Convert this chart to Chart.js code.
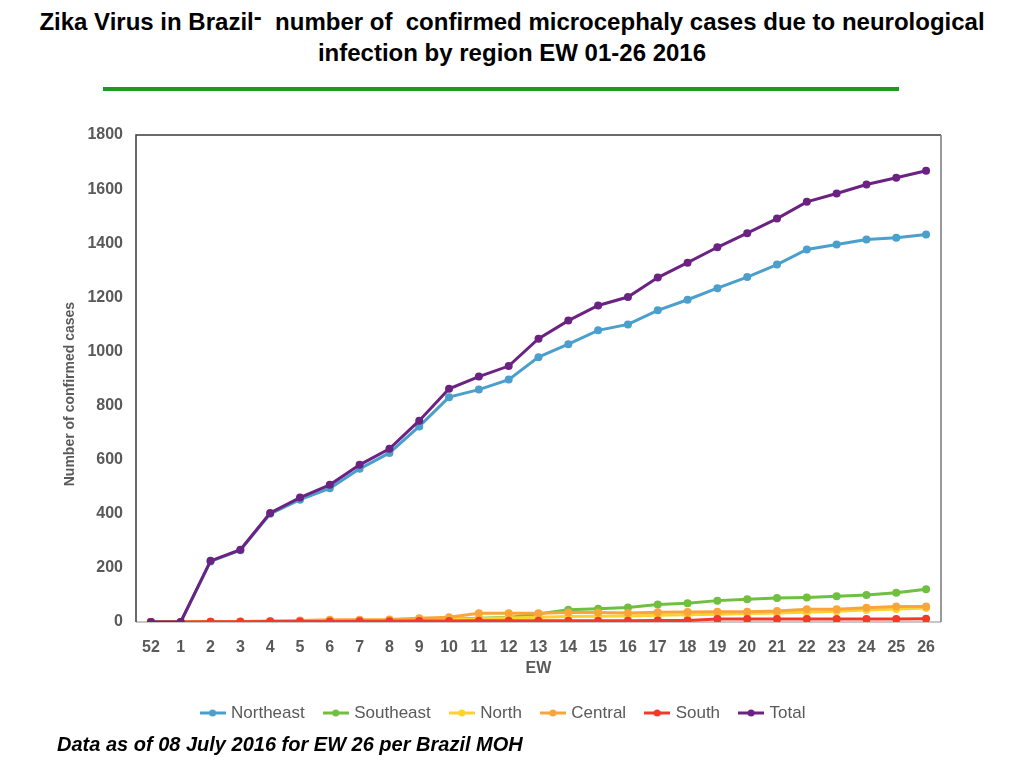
<!DOCTYPE html>
<html>
<head>
<meta charset="utf-8">
<script src="https://cdn.jsdelivr.net/npm/chart.js@4.4.1/dist/chart.umd.min.js"></script>
<style>
  body { margin: 0; background: #fff; }
  #page { position: relative; width: 1024px; height: 768px; overflow: hidden; font-family: "Liberation Sans", Arial, sans-serif; }
  #title { position: absolute; top: 6px; left: 0; width: 1024px; text-align: center; font-weight: bold; font-size: 24px; line-height: 31px; color: #000; }
  #rule { position: absolute; top: 87px; left: 103px; width: 796px; height: 4px; background: #1c9a22; }
  #chartBox { position: absolute; top: 110px; left: 0; width: 1024px; height: 630px; }
  #note { position: absolute; left: 57px; top: 732px; font-size: 20px; line-height: 24px; font-weight: bold; font-style: italic; color: #000; }
</style>
</head>
<body>
<div id="page">
  <div id="title">Zika Virus in Brazil<span style="position:relative;top:-5px">-</span>&nbsp; number of &nbsp;confirmed microcephaly cases due to neurological<br>infection by region EW 01-26 2016</div>
  <div id="rule"></div>
  <div id="chartBox"><canvas id="myChart" width="1024" height="630"></canvas></div>
  <div id="note">Data as of 08 July 2016 for EW 26 per Brazil MOH</div>
</div>
<script>
// epidemiological weeks (52 of 2015, then 2016)
const weeks = ['52', '1', '2', '3', '4', '5', '6', '7', '8', '9', '10', '11', '12', '13',
  '14', '15', '16', '17', '18', '19', '20', '21', '22', '23', '24', '25', '26'];

const northeast = [0, 0, 224, 265, 400, 452, 494, 566, 625, 723, 831, 859, 896, 979,
  1027, 1078, 1100, 1152, 1191, 1234, 1275, 1321, 1377, 1395, 1414, 1420, 1432];
const southeast = [0, 0, 1, 1, 2, 3, 4, 5, 6, 8, 10, 14, 17, 30,
  45, 49, 54, 65, 69, 79, 84, 89, 91, 95, 100, 108, 121];
const north = [0, 0, 0, 1, 1, 2, 2, 3, 3, 5, 8, 12, 15, 18,
  20, 21, 22, 25, 27, 29, 31, 33, 36, 40, 44, 48, 52];
const central = [0, 0, 1, 2, 4, 6, 8, 8, 9, 14, 18, 32, 32, 32,
  35, 35, 33, 36, 37, 38, 38, 41, 47, 47, 53, 57, 57];
const south = [0, 0, 1, 1, 2, 2, 2, 3, 3, 4, 4, 5, 5, 5,
  5, 5, 5, 6, 6, 11, 11, 11, 11, 11, 11, 11, 12];
const total = [0, 0, 226, 267, 403, 460, 507, 581, 640, 744, 862, 907, 946, 1047,
  1114, 1170, 1201, 1273, 1328, 1385, 1437, 1491, 1553, 1584, 1617, 1642, 1668];

const seriesNames = ['Northeast', 'Southeast', 'North', 'Central', 'South', 'Total'];
const seriesData = [northeast, southeast, north, central, south, total];
const seriesColors = ['#4a9fcd', '#70bf41', '#fdd230', '#f9a53b', '#f23a2a', '#6b2283'];

const grey = '#595959';
Chart.defaults.font.family = '"Liberation Sans", Arial, sans-serif';

// little line-with-dot marker for the legend, like the excel one
function legendIcon(color) {
  const c = document.createElement('canvas');
  c.width = 26; c.height = 10;
  const g = c.getContext('2d');
  g.strokeStyle = color; g.lineWidth = 3;
  g.beginPath(); g.moveTo(0, 5); g.lineTo(26, 5); g.stroke();
  g.fillStyle = color;
  g.beginPath(); g.arc(13, 5, 3.5, 0, Math.PI * 2); g.fill();
  return c;
}

// box round the plot area
const plotFrame = {
  id: 'plotFrame',
  beforeDatasetsDraw(chart) {
    const a = chart.chartArea, ctx = chart.ctx;
    ctx.save();
    ctx.lineWidth = 1.5;
    ctx.strokeStyle = '#b5b5b5';
    ctx.beginPath(); ctx.moveTo(a.left, a.bottom); ctx.lineTo(a.right, a.bottom); ctx.stroke();
    ctx.strokeStyle = '#3a3a3a';
    ctx.beginPath();
    ctx.moveTo(a.left, a.bottom); ctx.lineTo(a.left, a.top); ctx.lineTo(a.right, a.top);
    ctx.stroke();
    ctx.strokeStyle = '#777';
    ctx.beginPath(); ctx.moveTo(a.right, a.top); ctx.lineTo(a.right, a.bottom); ctx.stroke();
    ctx.restore();
  }
};

const ctx = document.getElementById('myChart').getContext('2d');
new Chart(ctx, {
  type: 'line',
  data: {
    labels: weeks,
    datasets: seriesNames.map((name, i) => ({
      label: name,
      data: seriesData[i],
      borderColor: seriesColors[i],
      backgroundColor: seriesColors[i],
      borderWidth: 3,
      pointRadius: 4,
      pointBorderWidth: 0,
      pointStyle: 'circle',
      tension: 0,
      order: seriesNames.length - i
    }))
  },
  options: {
    responsive: false,
    animation: false,
    layout: { padding: { left: 0, right: 16, top: 25, bottom: 8.5 } },
    plugins: {
      tooltip: { enabled: false },
      legend: {
        position: 'bottom',
        labels: {
          usePointStyle: true,
          pointStyleWidth: 20,
          padding: 21,
          color: grey,
          font: { size: 17 },
          generateLabels: chart => chart.data.datasets.map((ds, i) => ({
            text: ds.label,
            fillStyle: ds.borderColor,
            strokeStyle: ds.borderColor,
            lineWidth: 0,
            pointStyle: legendIcon(ds.borderColor),
            hidden: !chart.isDatasetVisible(i),
            datasetIndex: i,
            fontColor: grey
          }))
        }
      }
    },
    scales: {
      x: {
        offset: true,
        grid: { display: false, drawTicks: false },
        border: { display: false },
        ticks: { color: grey, font: { size: 16, weight: 'bold' }, padding: 16, maxRotation: 0, autoSkip: false },
        title: { display: true, text: 'EW', color: grey, font: { size: 16, weight: 'bold' }, padding: { top: 0, bottom: 5 } },
        afterFit: s => { s.height = 61.5; }
      },
      y: {
        min: 0,
        max: 1800,
        grid: { display: false, drawTicks: false },
        border: { display: false },
        ticks: { stepSize: 200, color: grey, font: { size: 16, weight: 'bold' }, padding: 13, callback: v => String(v) },
        // trailing spaces push the visible words a little below centre, as in the original
        title: { display: true, text: 'Number of confirmed cases        ', color: grey, font: { size: 14, weight: 'bold' }, padding: { top: 62, bottom: 0 } },
        afterFit: s => { s.width = 136; }
      },
      // empty right-hand strip so the legend centres on the page, not the plot
      yRight: {
        position: 'right',
        min: 0,
        max: 1800,
        grid: { display: false, drawTicks: false },
        border: { display: false },
        ticks: { display: false },
        afterFit: s => { s.width = 67; }
      }
    }
  },
  plugins: [plotFrame]
});
</script>
</body>
</html>
